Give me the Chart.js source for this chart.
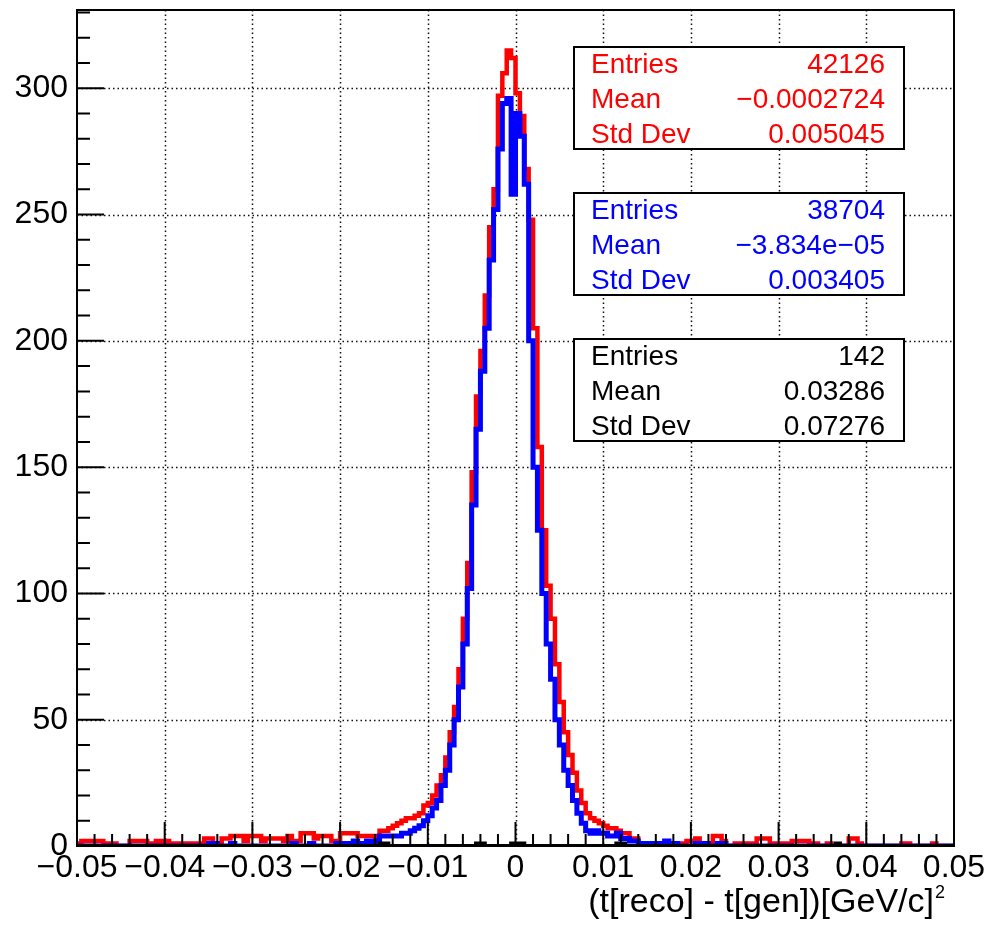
<!DOCTYPE html>
<html>
<head>
<meta charset="utf-8">
<script src="https://cdn.jsdelivr.net/npm/chart.js@4.4.1/dist/chart.umd.min.js"></script>
<style>
  body { margin: 0; background: #fff; }
  #wrap { position: relative; width: 991px; height: 925px; font-family: "Liberation Sans", Arial, sans-serif; }
  #plot { position: absolute; left: 0; top: 0; }
  .stats { position: absolute; left: 573px; width: 332px; height: 104px; box-sizing: border-box;
           border: 2px solid #000; background: #fff; font-size: 28px; }
  .stats .row { position: absolute; left: 16px; right: 18px; height: 35px; line-height: 35px; white-space: nowrap; }
  .stats .row .v { float: right; }
  #xtitle { position: absolute; right: 46px; top: 883px; font-size: 34px; line-height: 34px; white-space: nowrap; color: #000; }
  #xtitle .sup { font-size: 18px; position: relative; top: -14px; margin-left: 1px; }
</style>
</head>
<body>
<div id="wrap">
  <canvas id="plot" width="991" height="925"></canvas>
  <div id="xtitle">(t[reco] - t[gen])[GeV/c]<span class="sup">2</span></div>
</div>
<script>
// histogram binning: 200 bins from -0.05 to 0.05
const xMin = -0.05, xMax = 0.05, binWidth = 0.0005;
const yMax = 331;

// bin contents (bin 0 = leftmost)
const redCounts = [
  1, 1, 2, 2, 2, 2, 2, 1, 1, 1,
  0, 0, 0, 2, 2, 2, 2, 0, 1, 2,
  1, 2, 1, 1, 1, 1, 1, 1, 1, 1,
  3, 3, 1, 1, 3, 3, 4, 4, 4, 2,
  4, 4, 4, 2, 3, 3, 3, 3, 2, 4,
  2, 2, 5, 5, 5, 3, 4, 4, 4, 2,
  2, 5, 5, 5, 5, 4, 4, 4, 4, 3,
  6, 6, 7, 8, 9, 10, 11, 11, 12, 13,
  16, 17, 20, 24, 28, 35, 45, 55, 70, 90,
  112, 148, 178, 196, 218, 245, 260, 297, 306, 315,
  312, 298, 289, 268, 248, 205, 158, 125, 103, 90,
  72, 57, 45, 36, 29, 22, 17, 13, 11, 10,
  9, 8, 7, 7, 6, 5, 5, 3, 3, 1,
  1, 1, 1, 1, 1, 1, 1, 1, 1, 1,
  2, 2, 3, 1, 1, 1, 4, 4, 2, 0,
  0, 1, 1, 1, 1, 1, 3, 3, 3, 1,
  1, 1, 1, 0, 2, 2, 2, 2, 1, 1,
  0, 0, 1, 0, 0, 0, 0, 3, 3, 1,
  0, 0, 0, 0, 0, 0, 0, 0, 0, 1,
  1, 0, 0, 0, 0, 0, 1, 0, 0, 0
];
const blueCounts = [
  0, 0, 0, 0, 0, 0, 0, 0, 0, 0,
  0, 0, 0, 0, 0, 0, 0, 0, 0, 0,
  0, 0, 0, 0, 0, 0, 0, 0, 0, 0,
  0, 1, 1, 0, 0, 0, 1, 0, 0, 0,
  0, 0, 0, 0, 0, 0, 0, 0, 0, 0,
  1, 0, 0, 0, 1, 0, 0, 0, 0, 0,
  1, 1, 1, 1, 2, 1, 1, 2, 1, 2,
  4, 4, 4, 4, 4, 5, 5, 6, 7, 8,
  10, 12, 15, 18, 24, 30, 40, 50, 63, 80,
  102, 135, 165, 188, 205, 232, 252, 276, 294, 296,
  258, 290, 281, 262, 200, 150, 125, 100, 80, 66,
  50, 40, 30, 24, 18, 13, 9, 6, 5, 6,
  5, 5, 4, 4, 5, 3, 3, 2, 2, 1,
  1, 1, 0, 1, 0, 2, 0, 1, 0, 0,
  0, 0, 1, 1, 1, 0, 0, 1, 1, 0,
  0, 0, 0, 0, 0, 0, 0, 0, 0, 0,
  0, 0, 0, 0, 0, 0, 0, 0, 0, 0,
  0, 0, 0, 0, 0, 0, 0, 0, 0, 0,
  0, 0, 0, 0, 0, 0, 0, 0, 0, 0,
  0, 0, 0, 0, 0, 0, 0, 0, 0, 0
];
const blackCounts = [
  0, 0, 0, 0, 0, 0, 0, 0, 0, 0,
  0, 0, 0, 0, 0, 0, 0, 0, 0, 0,
  0, 0, 0, 0, 0, 0, 0, 0, 0, 0,
  0, 0, 0, 0, 0, 0, 0, 0, 0, 0,
  0, 0, 0, 0, 0, 0, 0, 0, 0, 0,
  0, 0, 0, 0, 0, 0, 0, 0, 0, 0,
  0, 0, 0, 0, 0, 0, 0, 0, 0, 0,
  1, 1, 0, 0, 0, 0, 0, 0, 0, 0,
  0, 0, 0, 0, 0, 0, 0, 0, 0, 0,
  0, 0, 1, 1, 0, 0, 0, 0, 0, 0,
  1, 1, 1, 0, 0, 0, 0, 0, 0, 0,
  0, 0, 0, 0, 0, 0, 0, 0, 0, 0,
  0, 0, 0, 0, 1, 1, 0, 0, 0, 0,
  0, 0, 0, 0, 0, 0, 0, 0, 0, 0,
  0, 0, 0, 0, 0, 0, 0, 0, 0, 0,
  0, 0, 0, 0, 0, 0, 0, 0, 0, 0,
  0, 0, 0, 0, 0, 0, 0, 0, 0, 0,
  0, 0, 0, 0, 1, 0, 0, 0, 0, 0,
  0, 0, 0, 0, 0, 0, 0, 0, 0, 0,
  0, 0, 0, 0, 0, 0, 0, 0, 0, 0
];

// stat boxes
const statLabels = ['Entries', 'Mean', 'Std Dev'];
const redStats = ['42126', '\u22120.0002724', '0.005045'];
const blueStats = ['38704', '\u22123.834e\u221205', '0.003405'];
const blackStats = ['142', '0.03286', '0.07276'];

// axis ticks
const xMajor = 0.01, xMinor = 0.002;
const yMajor = 50, yMinor = 10;

// turn bin contents into step points (left edge of each bin + closing right edge)
function toSteps(counts) {
  const pts = counts.map((c, i) => ({ x: xMin + i * binWidth, y: c }));
  pts.push({ x: xMax, y: counts[counts.length - 1] });
  return pts;
}

function fmtX(v) {
  if (Math.abs(v) < 1e-9) return '0';
  return (v < 0 ? '\u2212' : '') + Math.abs(v).toFixed(2);
}

// ROOT-like frame, dotted grid and inward tick marks
const rootAxes = {
  id: 'rootAxes',
  beforeDatasetsDraw(chart) {
    const { ctx, chartArea: a, scales: { x, y } } = chart;
    ctx.save();
    ctx.strokeStyle = '#111';
    ctx.lineWidth = 1.5;
    ctx.setLineDash([1.5, 3]);
    ctx.beginPath();
    x.ticks.forEach(t => {
      const p = Math.round(x.getPixelForValue(t.value)) + 0.5;
      if (p > a.left + 2 && p < a.right - 2) { ctx.moveTo(p, a.top); ctx.lineTo(p, a.bottom); }
    });
    y.ticks.forEach(t => {
      const p = Math.round(y.getPixelForValue(t.value)) + 0.5;
      if (p > a.top + 2 && p < a.bottom - 2) { ctx.moveTo(a.left, p); ctx.lineTo(a.right, p); }
    });
    ctx.stroke();
    ctx.restore();
  },
  afterDatasetsDraw(chart) {
    const { ctx, chartArea: a, scales: { x, y } } = chart;
    ctx.save();
    ctx.strokeStyle = '#000';
    ctx.lineWidth = 2;
    ctx.strokeRect(a.left, a.top, a.right - a.left, a.bottom - a.top);
    ctx.beginPath();
    const nx = Math.round((xMax - xMin) / xMinor);
    for (let k = 0; k <= nx; k++) {
      const v = xMin + k * xMinor;
      const p = x.getPixelForValue(v);
      const len = (k % Math.round(xMajor / xMinor) === 0) ? 24 : 12;
      ctx.moveTo(p, a.bottom);
      ctx.lineTo(p, a.bottom - len);
    }
    for (let v = 0; v <= yMax; v += yMinor) {
      const p = y.getPixelForValue(v);
      const len = (v % yMajor === 0) ? 27 : 13;
      ctx.moveTo(a.left, p);
      ctx.lineTo(a.left + len, p);
    }
    ctx.stroke();
    ctx.restore();
  }
};

function histSet(label, counts, color, width, order) {
  return {
    label: label,
    data: toSteps(counts),
    borderColor: color,
    borderWidth: width,
    stepped: 'after',
    fill: false,
    pointRadius: 0,
    borderJoinStyle: 'miter',
    borderCapStyle: 'butt',
    order: order
  };
}

const tickFont = { family: '"Liberation Sans", Arial, sans-serif', size: 32 };

new Chart(document.getElementById('plot'), {
  type: 'line',
  data: {
    datasets: [
      histSet('h1', redCounts, '#ff0000', 4.5, 3),
      histSet('h2', blueCounts, '#0000ff', 5, 2),
      histSet('h3', blackCounts, '#000000', 4, 1)
    ]
  },
  options: {
    responsive: false,
    animation: false,
    devicePixelRatio: 1,
    events: [],
    layout: { padding: { top: 10, right: 37, left: 0, bottom: 0 } },
    plugins: { legend: { display: false }, tooltip: { enabled: false } },
    scales: {
      x: {
        type: 'linear',
        min: xMin,
        max: xMax,
        grid: { display: false, drawTicks: false },
        border: { display: false },
        ticks: {
          stepSize: xMajor,
          includeBounds: false,
          autoSkip: false,
          maxRotation: 0,
          minRotation: 0,
          padding: 3,
          color: '#000',
          font: tickFont,
          callback: v => fmtX(v)
        },
        afterFit: s => { s.height = 79; s.paddingLeft = 0; s.paddingRight = 0; }
      },
      y: {
        type: 'linear',
        min: 0,
        max: yMax,
        grid: { display: false, drawTicks: false },
        border: { display: false },
        ticks: {
          stepSize: yMajor,
          includeBounds: false,
          padding: 9,
          color: '#000',
          font: tickFont
        },
        afterFit: s => { s.width = 77; s.paddingTop = 0; s.paddingBottom = 0; }
      }
    }
  },
  plugins: [rootAxes]
});

// stat boxes as html text
const boxes = [
  { top: 46, color: '#ff0000', vals: redStats },
  { top: 192, color: '#0000ff', vals: blueStats },
  { top: 338, color: '#000000', vals: blackStats }
];
const wrap = document.getElementById('wrap');
boxes.forEach(b => {
  const box = document.createElement('div');
  box.className = 'stats';
  box.style.top = b.top + 'px';
  box.style.color = b.color;
  statLabels.forEach((lab, i) => {
    const row = document.createElement('div');
    row.className = 'row';
    row.style.top = (-2.5 + 35 * i) + 'px';
    const l = document.createElement('span');
    l.textContent = lab;
    const v = document.createElement('span');
    v.className = 'v';
    v.textContent = b.vals[i];
    row.appendChild(l);
    row.appendChild(v);
    box.appendChild(row);
  });
  wrap.appendChild(box);
});
</script>
</body>
</html>
